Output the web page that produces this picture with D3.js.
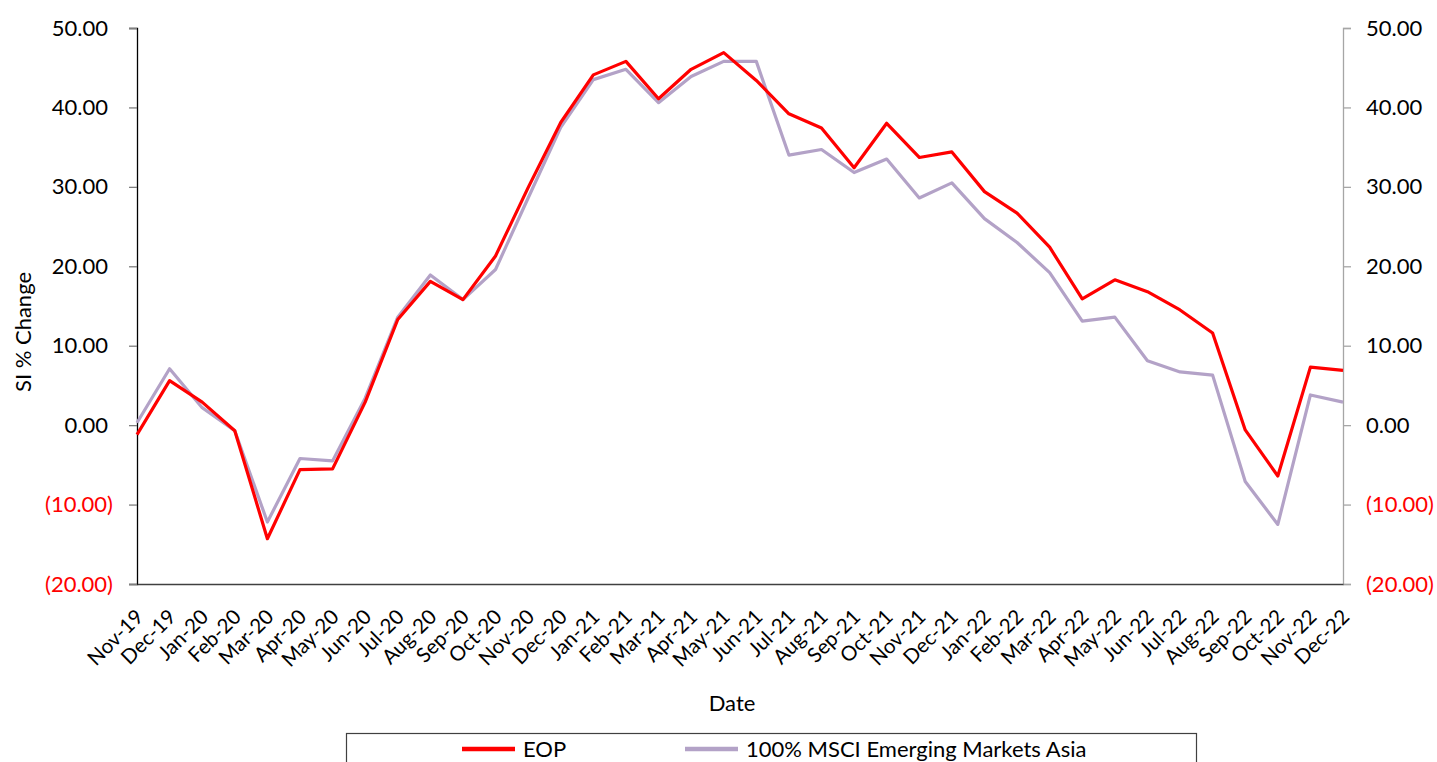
<!DOCTYPE html>
<html>
<head>
<meta charset="utf-8">
<script src="https://cdn.jsdelivr.net/npm/d3@7"></script>
<style>
  body { margin: 0; background: #fff; }
  svg text { font-family: Lato, "Open Sans", sans-serif; }
</style>
</head>
<body>
<script>
var months = ['Nov-19', 'Dec-19', 'Jan-20', 'Feb-20', 'Mar-20', 'Apr-20', 'May-20', 'Jun-20',
  'Jul-20', 'Aug-20', 'Sep-20', 'Oct-20', 'Nov-20', 'Dec-20', 'Jan-21', 'Feb-21', 'Mar-21',
  'Apr-21', 'May-21', 'Jun-21', 'Jul-21', 'Aug-21', 'Sep-21', 'Oct-21', 'Nov-21', 'Dec-21',
  'Jan-22', 'Feb-22', 'Mar-22', 'Apr-22', 'May-22', 'Jun-22', 'Jul-22', 'Aug-22', 'Sep-22',
  'Oct-22', 'Nov-22', 'Dec-22'];

var eop = [-1.2, 5.6, 2.9, -0.7, -14.3, -5.6, -5.5, 2.9, 13.3, 18.1, 15.8, 21.3, 29.9, 38.1,
  44.1, 45.8, 41.1, 44.8, 46.9, 43.4, 39.2, 37.4, 32.4, 38.0, 33.7, 34.4, 29.4, 26.7, 22.4,
  15.9, 18.3, 16.8, 14.5, 11.6, -0.6, -6.4, 7.3, 6.9];

var msci = [0.3, 7.1, 2.2, -0.7, -12.2, -4.2, -4.5, 3.4, 13.6, 18.9, 15.8, 19.6, 28.6, 37.5,
  43.5, 44.8, 40.6, 43.9, 45.8, 45.8, 34.0, 34.7, 31.8, 33.5, 28.6, 30.5, 26.0, 23.0, 19.2,
  13.1, 13.6, 8.1, 6.7, 6.3, -7.1, -12.5, 3.8, 2.9];

var yTicks = [-20, -10, 0, 10, 20, 30, 40, 50];
var seriesNames = ['EOP', '100% MSCI Emerging Markets Asia'];
var seriesColors = ['#ff0000', '#b3a2c7'];

var w = 1437;
var h = 762;
var plotLeft = 137, plotRight = 1343, plotTop = 28, plotBottom = 584;

var svg = d3.select('body')
  .append('svg')
  .attr('width', w)
  .attr('height', h);

var xScale = d3.scalePoint()
  .domain(months)
  .range([plotLeft, plotRight]);

var yScale = d3.scaleLinear()
  .domain([-20, 50])
  .range([plotBottom, plotTop]);

var fmt = d3.format('.2f');
function tickText(d) {
  return d < 0 ? '(' + fmt(-d) + ')' : fmt(d);
}

// left axis
var yAxisL = d3.axisLeft(yScale).tickValues(yTicks).tickFormat(tickText).tickSize(8).tickPadding(21);
var gL = svg.append('g')
  .attr('transform', 'translate(' + plotLeft + ',0)')
  .call(yAxisL);
gL.select('.domain').attr('stroke', '#000').attr('stroke-width', 1.3);
gL.selectAll('.tick line').attr('stroke', '#7f7f7f').attr('stroke-width', 1.3);
gL.selectAll('.tick text')
  .attr('font-size', 22)
  .attr('fill', d => d < 0 ? '#ff0000' : '#000')
  .attr('dx', d => d < 0 ? 5 : 0);

// right axis
var yAxisR = d3.axisRight(yScale).tickValues(yTicks).tickFormat(tickText).tickSize(8).tickPadding(15);
var gR = svg.append('g')
  .attr('transform', 'translate(' + plotRight + ',0)')
  .call(yAxisR);
gR.select('.domain').attr('stroke', '#a6a6a6').attr('stroke-width', 1.3);
gR.selectAll('.tick line').attr('stroke', '#a6a6a6').attr('stroke-width', 1.3);
gR.selectAll('.tick text')
  .attr('font-size', 22)
  .attr('fill', d => d < 0 ? '#ff0000' : '#000');

// bottom axis
var xAxis = d3.axisBottom(xScale).tickSize(0).tickPadding(0);
var gX = svg.append('g')
  .attr('transform', 'translate(0,' + plotBottom + ')')
  .call(xAxis);
gX.select('.domain').attr('stroke', '#404040').attr('stroke-width', 1.3);
gX.selectAll('.tick text')
  .attr('font-size', 20.5)
  .attr('fill', '#000')
  .attr('text-anchor', 'end')
  .attr('y', 0)
  .attr('dy', '0.35em')
  .attr('transform', 'translate(2,29) rotate(-45)');

// lines
var line = d3.line()
  .x((d, i) => xScale(months[i]))
  .y(d => yScale(d));

[msci, eop].forEach(function (s, k) {
  svg.append('path')
    .datum(s)
    .attr('fill', 'none')
    .attr('stroke', k === 0 ? seriesColors[1] : seriesColors[0])
    .attr('stroke-width', 3.2)
    .attr('stroke-linejoin', 'round')
    .attr('d', line);
});

// axis titles
svg.append('text')
  .attr('transform', 'translate(31,332) rotate(-90)')
  .attr('text-anchor', 'middle')
  .attr('font-size', 22)
  .text('SI % Change');

svg.append('text')
  .attr('x', 732)
  .attr('y', 711)
  .attr('text-anchor', 'middle')
  .attr('font-size', 22)
  .text('Date');

// legend
svg.append('rect')
  .attr('x', 346.5)
  .attr('y', 733.5)
  .attr('width', 850)
  .attr('height', 60)
  .attr('fill', 'none')
  .attr('stroke', '#404040')
  .attr('stroke-width', 1.2);

var legX = [462, 685];
seriesNames.forEach(function (name, i) {
  svg.append('line')
    .attr('x1', legX[i])
    .attr('x2', legX[i] + 53)
    .attr('y1', 749)
    .attr('y2', 749)
    .attr('stroke', seriesColors[i])
    .attr('stroke-width', 4.5);
  svg.append('text')
    .attr('x', legX[i] + 61)
    .attr('y', 757)
    .attr('font-size', 22)
    .text(name);
});
</script>
</body>
</html>
